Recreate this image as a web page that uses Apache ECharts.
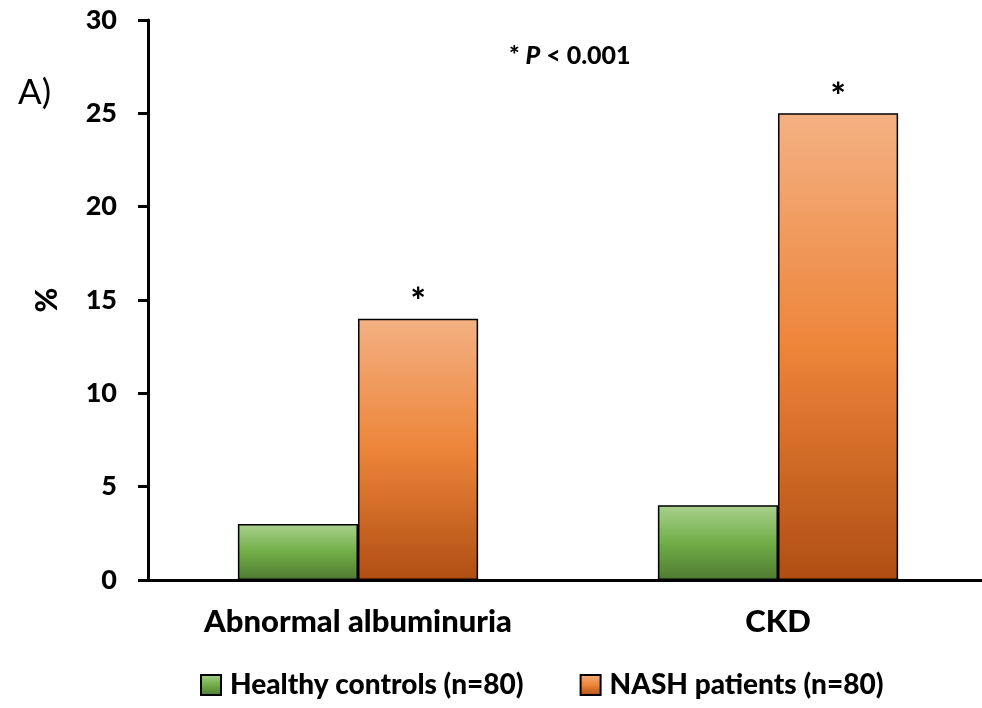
<!DOCTYPE html>
<html>
<head>
<meta charset="utf-8">
<script src="https://cdn.jsdelivr.net/npm/echarts@6/dist/echarts.min.js"></script>
<style>
html,body{margin:0;padding:0;background:#fff;overflow:hidden;width:982px;height:708px;}
#chart{width:992px;height:708px;}
</style>
</head>
<body>
<div id="chart"></div>
<script>
const categories = ['Abnormal albuminuria', 'CKD'];
const healthyControls = [3, 4];
const nashPatients = [14, 25];
const seriesNames = ['Healthy controls (n=80)', 'NASH patients (n=80)'];
const significance = ['*', '*'];
const yTicks = { min: 0, max: 30, interval: 5 };

const FONT = 'Lato';
const W = 900;
const chart = echarts.init(document.getElementById('chart'));

const greenGrad = new echarts.graphic.LinearGradient(0, 0, 0, 1, [
  { offset: 0, color: '#a9d18e' },
  { offset: 0.5, color: '#72ae48' },
  { offset: 1, color: '#4e7a31' }
]);
const orangeGrad = new echarts.graphic.LinearGradient(0, 0, 0, 1, [
  { offset: 0, color: '#f4b183' },
  { offset: 0.5, color: '#ed8539' },
  { offset: 1, color: '#b04e13' }
]);

chart.setOption({
  animation: false,
  textStyle: { fontFamily: FONT },
  grid: { left: 148, right: 4, top: 20, bottom: 128, containLabel: false },
  title: [
    { text: 'A)', left: 13, top: 70, textStyle: { fontFamily: FONT, fontWeight: 'normal', fontSize: 35, color: '#000' } },
    {
      text: '{b|* }{i|P}{b| < 0.001}', left: 504, top: 38,
      textStyle: {
        rich: {
          b: { fontFamily: FONT, fontWeight: W, fontSize: 25, color: '#000' },
          i: { fontFamily: FONT, fontWeight: W, fontStyle: 'italic', fontSize: 25, color: '#000' }
        }
      }
    }
  ],
  legend: {
    bottom: 4, left: 195, itemWidth: 20, itemHeight: 20, itemGap: 56,
    icon: 'rect',
    textStyle: { fontFamily: FONT, fontWeight: W, fontSize: 28, color: '#000', padding: [0, 0, 0, 4] },
    data: seriesNames
  },
  xAxis: {
    type: 'category', data: categories,
    axisLine: { lineStyle: { color: '#000', width: 3 } },
    axisTick: { show: false },
    axisLabel: { margin: 26, fontFamily: FONT, fontWeight: W, fontSize: 31, color: '#000' }
  },
  yAxis: {
    type: 'value', min: yTicks.min, max: yTicks.max, interval: yTicks.interval,
    name: '%', nameLocation: 'middle', nameGap: 86, nameRotate: 90,
    nameTextStyle: { fontFamily: FONT, fontWeight: W, fontSize: 30, color: '#000' },
    axisLine: { show: true, lineStyle: { color: '#000', width: 3 } },
    axisTick: { show: true, length: 10, lineStyle: { color: '#000', width: 3 } },
    splitLine: { show: false },
    axisLabel: { margin: 31, fontFamily: FONT, fontWeight: W, fontSize: 27, color: '#000' }
  },
  series: [
    {
      name: seriesNames[0], type: 'bar', data: healthyControls,
      barGap: '0%', barCategoryGap: '42.8%',
      itemStyle: { color: greenGrad, borderColor: '#000', borderWidth: 1.5 }
    },
    {
      name: seriesNames[1], type: 'bar', data: nashPatients,
      itemStyle: { color: orangeGrad, borderColor: '#000', borderWidth: 1.5 },
      label: {
        show: true, position: 'top', distance: -2,
        formatter: p => significance[p.dataIndex],
        fontFamily: FONT, fontWeight: W, fontSize: 36, color: '#000'
      }
    }
  ]
});
</script>
</body>
</html>
